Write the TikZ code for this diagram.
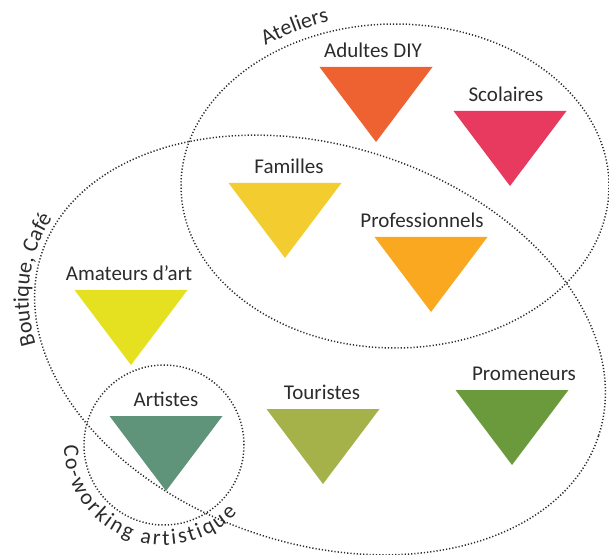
\documentclass[tikz,border=0pt]{standalone}
\usepackage{fontspec}
\setmainfont{Carlito}
\usetikzlibrary{positioning,decorations.text}
\definecolor{diy}{HTML}{EE6131}
\definecolor{scol}{HTML}{E83A5E}
\definecolor{fam}{HTML}{F3CD2F}
\definecolor{pro}{HTML}{F9A81F}
\definecolor{amat}{HTML}{E5E020}
\definecolor{art}{HTML}{5F937A}
\definecolor{tour}{HTML}{A5B24A}
\definecolor{prom}{HTML}{6A9A3C}
\definecolor{ink}{HTML}{2B2B2B}
\tikzset{every node/.style={align=center, text=ink, inner sep=4pt}, font=\fontsize{21}{25}\selectfont,
  grp/.style={draw=ink, line width=1.5pt, dash pattern=on 1.2pt off 2pt}}

\begin{document}
\begin{tikzpicture}[x=1pt,y=1pt]
    \useasboundingbox (0,0) rectangle (609,554);
    % centres of the groups
    \coordinate (atc) at (395,368);
    \coordinate (btc) at (320,209);
    \coordinate (cwc) at (164,109);
    \draw[grp] (atc) ellipse [x radius=214, y radius=162];
    \draw[grp, rotate around={-18:(btc)}] (btc) ellipse [x radius=293, y radius=199];
    \draw[grp] (cwc) circle [radius=80];
    % group names
    \path[decorate, decoration={text along path, text align=center,
        text={|\fontsize{22}{26}\selectfont\color{ink}|Ateliers}}]
        (atc) ++(140:223 and 172) arc [start angle=140, end angle=94, x radius=223, y radius=172];
    \begin{scope}[shift={(btc)}, rotate=-18]
        \path[decorate, decoration={text along path, text align=center,
            text={|\fontsize{22}{26}\selectfont\color{ink}|Boutique, Café}}]
            (210:299 and 205) arc [start angle=210, end angle=164, x radius=299, y radius=205];
    \end{scope}
    \path[decorate, decoration={text along path, text align=fit to path,
        text={|\fontsize{22}{26}\selectfont\color{ink}|Co-working artistique}}]
        (cwc) ++(180:100) arc [start angle=180, end angle=317, radius=100];
    % publics
    \coordinate (diy) at (376,487);
    \coordinate (scol) at (510,443);
    \coordinate (fam) at (285,371);
    \coordinate (pro) at (431,317);
    \coordinate (amat) at (131,264);
    \coordinate (art) at (166,138);
    \coordinate (tour) at (323,145);
    \coordinate (prom) at (512,164);
    \fill[diy] (diy) ++(-56.5,0) -- ++(113,0) -- ++(-56.5,-75) -- cycle;
    \fill[scol] (scol) ++(-56.5,0) -- ++(113,0) -- ++(-56.5,-75) -- cycle;
    \fill[fam] (fam) ++(-56.5,0) -- ++(113,0) -- ++(-56.5,-75) -- cycle;
    \fill[pro] (pro) ++(-56.5,0) -- ++(113,0) -- ++(-56.5,-75) -- cycle;
    \fill[amat] (amat) ++(-56.5,0) -- ++(113,0) -- ++(-56.5,-75) -- cycle;
    \fill[art] (art) ++(-56.5,0) -- ++(113,0) -- ++(-56.5,-75) -- cycle;
    \fill[tour] (tour) ++(-56.5,0) -- ++(113,0) -- ++(-56.5,-75) -- cycle;
    \fill[prom] (prom) ++(-56.5,0) -- ++(113,0) -- ++(-56.5,-75) -- cycle;
    \node[above=5pt of diy, xshift=-3pt] (ldiy) {Adultes DIY};
    \node[above=5pt of scol, xshift=-4pt] (lscol) {Scolaires};
    \node[above=5pt of fam, xshift=4pt] (lfam) {Familles};
    \node[above=5pt of pro, xshift=-9pt] (lpro) {Professionnels};
    \node[above=5pt of amat, xshift=-2pt] (lamat) {Amateurs d’art};
    \node[above=5pt of art] (lart) {Artistes};
    \node[above=5pt of tour, xshift=-1pt] (ltour) {Touristes};
    \node[above=5pt of prom, xshift=12pt] (lprom) {Promeneurs};
\end{tikzpicture}
\end{document}
